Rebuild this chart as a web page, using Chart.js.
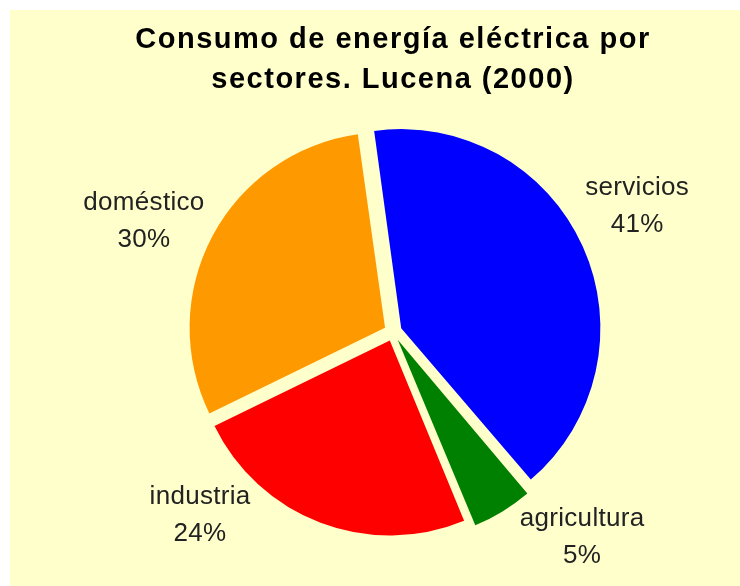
<!DOCTYPE html>
<html>
<head>
<meta charset="utf-8">
<script src="https://cdn.jsdelivr.net/npm/chart.js@4.4.1/dist/chart.umd.min.js"></script>
<style>
  html, body { margin: 0; padding: 0; background: #ffffff; }
  #wrap { width: 740px; height: 586px; }
</style>
</head>
<body>
<div id="wrap"><canvas id="pie" width="740" height="586"></canvas></div>
<script>
const sectors = ["servicios", "agricultura", "industria", "doméstico"];
const shares = [41, 5, 24, 30];
const sliceColors = ["#0000ff", "#008000", "#ff0000", "#ff9900"];

// label placement: angle nudge (deg) off the slice middle, distance as a fraction of the radius
const labelNudge = [-3, -11.3, 25.7, -4];
const labelDist = [1.408, 1.43, 1.364, 1.398];

const panel = {
    id: "panel",
    beforeDraw(chart) {
        const ctx = chart.ctx;
        ctx.fillStyle = "#ffffcc";
        ctx.fillRect(10, 10, chart.width - 10, chart.height - 10);
        // wide tracking for the title, which is drawn right after this hook
        ctx.letterSpacing = "1.5px";
    },
    beforeDatasetsDraw(chart) {
        chart.ctx.letterSpacing = "0px";
    }
};

const sliceLabels = {
    id: "sliceLabels",
    afterDatasetsDraw(chart) {
        const ctx = chart.ctx;
        const meta = chart.getDatasetMeta(0);
        const total = shares.reduce((a, b) => a + b, 0);
        ctx.save();
        ctx.fillStyle = "#222222";
        ctx.font = "26px 'Liberation Sans', Arial, sans-serif";
        ctx.letterSpacing = "0.3px";
        ctx.textAlign = "center";
        ctx.textBaseline = "middle";
        meta.data.forEach((arc, i) => {
            const mid = (arc.startAngle + arc.endAngle) / 2 + labelNudge[i] * Math.PI / 180;
            const r = arc.outerRadius * labelDist[i];
            const x = arc.x + Math.cos(mid) * r;
            const y = arc.y + Math.sin(mid) * r;
            const pct = Math.round(shares[i] / total * 100) + "%";
            ctx.fillText(sectors[i], x, y - 18.5);
            ctx.fillText(pct, x, y + 18.5);
        });
        ctx.restore();
    }
};

new Chart(document.getElementById("pie"), {
    type: "pie",
    data: {
        labels: sectors,
        datasets: [{
            data: shares,
            backgroundColor: sliceColors,
            borderWidth: 0,
            offset: 36
        }]
    },
    options: {
        responsive: false,
        animation: false,
        rotation: -8,
        layout: {
            padding: { left: 46, right: 0, top: 10, bottom: 41 }
        },
        plugins: {
            legend: { display: false },
            tooltip: { enabled: false },
            title: {
                display: true,
                text: ["Consumo de energía eléctrica por", "sectores. Lucena (2000)"],
                color: "#000000",
                font: { family: "'Liberation Sans', Arial, sans-serif", size: 29, weight: "bold", lineHeight: 1.379 },
                padding: { top: 10, bottom: 19 }
            }
        }
    },
    plugins: [panel, sliceLabels]
});
</script>
</body>
</html>
